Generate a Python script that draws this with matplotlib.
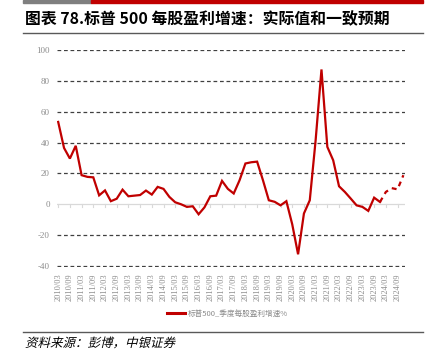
import matplotlib
matplotlib.use("Agg")
import matplotlib.pyplot as plt
from matplotlib.lines import Line2D
from matplotlib.patches import Rectangle, PathPatch
from matplotlib.textpath import TextPath
from matplotlib.font_manager import FontProperties
from matplotlib.transforms import Affine2D

plt.rcParams['font.family'] = ['Noto Sans CJK SC', 'DejaVu Sans']

# 标普500 季度每股盈利增速 (%), 2010Q1 - 2023Q4 实际值
actual = [53.5, 36.6, 29.7, 38.0, 18.9, 17.8, 17.5, 5.8, 9.0, 2.0,
          3.6, 9.5, 5.2, 5.6, 6.0, 8.9, 6.3, 11.3, 10.0, 4.8,
          1.3, 0.0, -1.7, -1.3, -6.5, -2.0, 5.2, 5.6, 15.2, 10.0,
          7.0, 15.6, 26.5, 27.3, 27.7, 15.6, 2.6, 1.6, -0.7, 2.0,
          -13.0, -32.5, -6.0, 2.6, 41.6, 87.6, 37.3, 28.6, 11.7, 8.0,
          3.7, -0.7, -1.7, -4.3, 4.3, 1.5]
# 一致预期 2023Q4 - 2024Q4
forecast = [1.5, 8.0, 10.5, 9.7, 18.9]

years = list(range(2010, 2025))
quarters = [f"{y}/{m:02d}" for y in years for m in (3, 6, 9, 12)]
tick_pos = list(range(0, len(quarters), 2))
tick_labels = [quarters[i] for i in tick_pos]

red = '#c00000'
grey_txt = '#8c8c8c'

fig = plt.figure(figsize=(4.33, 3.52), dpi=100)
ax = fig.add_axes([0.131, 0.2426, 0.804, 0.6165])

x_act = list(range(len(actual)))
x_fc = list(range(len(actual) - 1, len(actual) - 1 + len(forecast)))
ax.plot(x_act, actual, color=red, lw=1.6, zorder=3, solid_joinstyle='miter')
ax.plot(x_fc, forecast, color=red, lw=1.6, ls=(0, (2.2, 2.0)), zorder=3)

ax.set_ylim(-40.5, 100.5)
ax.set_xlim(-0.25, 59.25)
yt = [-40, -20, 0, 20, 40, 60, 80, 100]
ax.set_yticks(yt)
ax.set_yticklabels([str(v) for v in yt], family='Liberation Serif', fontsize=6.5, color=grey_txt)
for v in yt:
    if v != 0:
        ax.axhline(v, color='#404040', lw=0.9, ls=(0, (3, 2.2)), zorder=1)
ax.axhline(0, color='#d9d9d9', lw=0.9, zorder=2)
ax.tick_params(axis='y', length=0, pad=5)

ax.set_xticks(tick_pos)
ax.set_xticklabels(tick_labels, rotation=90, family='Liberation Serif', fontsize=6, color=grey_txt)
ax.tick_params(axis='x', length=0, pad=5)
# small ticks on the zero line
for i in tick_pos:
    ax.plot([i, i], [0, -1.9], color='#d9d9d9', lw=0.8, zorder=2)

for s in ax.spines.values():
    s.set_visible(False)

# legend
h = [Line2D([0], [0], color=red, lw=2.2)]
fig.legend(h, ['标普500_季度每股盈利增速%'], loc='center', bbox_to_anchor=(0.525, 0.108),
           frameon=False, fontsize=5.5, handlelength=2.4, handletextpad=0.3,
           labelcolor=grey_txt)

# header bars and lines
fig.patches.append(Rectangle((23 / 433, 1 - 3 / 352), 68 / 433, 3 / 352, transform=fig.transFigure,
                             color='#7f7f7f', zorder=5))
fig.patches.append(Rectangle((91 / 433, 1 - 3 / 352), 332 / 433, 3 / 352, transform=fig.transFigure,
                             color=red, zorder=5))
fig.add_artist(Line2D([23 / 433, 423 / 433], [1 - 33 / 352] * 2, color='#595959', lw=1.0))
fig.add_artist(Line2D([23 / 433, 423 / 433], [1 - 331.5 / 352] * 2, color='#595959', lw=1.0))

fig.text(25 / 433, 1 - 19 / 352, '图表 78.标普 500 每股盈利增速：实际值和一致预期',
         fontsize=11.4, fontweight='bold', va='center', ha='left', color='black')

# 资料来源 (slanted, CJK font has no italic)
src = TextPath((0, 0), '资料来源：彭博，中银证券',
               prop=FontProperties(family='Noto Sans CJK SC', size=9))
tr = Affine2D().skew_deg(14, 0).scale(1 / 72).translate(25 / 100, (352 - 347) / 100) + fig.dpi_scale_trans
fig.patches.append(PathPatch(src, transform=tr, color='black', lw=0))

fig.savefig('out.png', dpi=100)
